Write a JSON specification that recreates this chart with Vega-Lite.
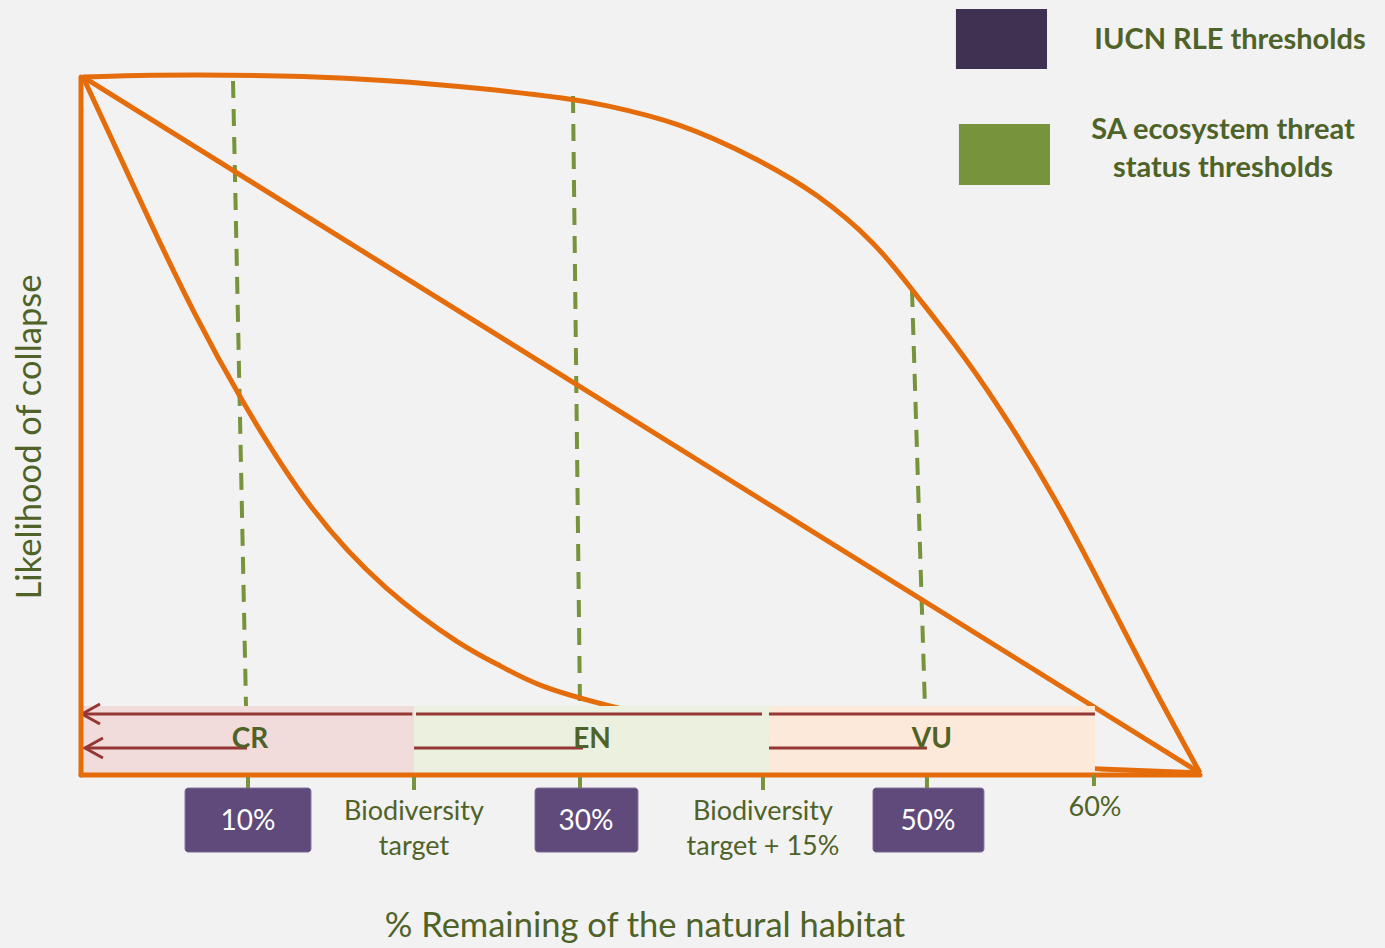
{
  "$schema": "https://vega.github.io/schema/vega-lite/v6.json",
  "width": 1385,
  "height": 948,
  "autosize": {"type": "fit", "contains": "padding"},
  "padding": 0,
  "background": "#f2f2f2",
  "config": {"view": {"stroke": null}, "font": "Lato"},
  "datasets": {
    "dashes": [
      {"id": "d10", "o": 1, "x": 9.13, "y": 0.9943},
      {"id": "d10", "o": 2, "x": 9.91, "y": 0.0963},
      {"id": "d30", "o": 1, "x": 29.55, "y": 0.9727},
      {"id": "d30", "o": 2, "x": 29.97, "y": 0.0963},
      {"id": "d50", "o": 1, "x": 49.91, "y": 0.694},
      {"id": "d50", "o": 2, "x": 50.69, "y": 0.0948}
    ],
    "curves": [
      {"id": "top", "o": 1, "x": 0.12, "y": 1.0},
      {"id": "top", "o": 2, "x": 4.14, "y": 1.0029},
      {"id": "top", "o": 3, "x": 9.13, "y": 1.0029},
      {"id": "top", "o": 4, "x": 13.15, "y": 1.0014},
      {"id": "top", "o": 5, "x": 18.32, "y": 0.9957},
      {"id": "top", "o": 6, "x": 23.96, "y": 0.9842},
      {"id": "top", "o": 7, "x": 29.55, "y": 0.9684},
      {"id": "top", "o": 8, "x": 31.17, "y": 0.9612},
      {"id": "top", "o": 9, "x": 35.92, "y": 0.9353},
      {"id": "top", "o": 10, "x": 40.66, "y": 0.8822},
      {"id": "top", "o": 11, "x": 44.2, "y": 0.8333},
      {"id": "top", "o": 12, "x": 47.81, "y": 0.7601},
      {"id": "top", "o": 13, "x": 49.91, "y": 0.694},
      {"id": "top", "o": 14, "x": 52.55, "y": 0.6149},
      {"id": "top", "o": 15, "x": 54.89, "y": 0.5359},
      {"id": "top", "o": 16, "x": 58.5, "y": 0.398},
      {"id": "top", "o": 17, "x": 62.04, "y": 0.2328},
      {"id": "top", "o": 18, "x": 64.44, "y": 0.1207},
      {"id": "top", "o": 19, "x": 67.21, "y": 0.0},
      {"id": "mid", "o": 1, "x": 0.12, "y": 1.0},
      {"id": "mid", "o": 2, "x": 67.21, "y": 0.0},
      {"id": "low", "o": 1, "x": 0.12, "y": 1.0},
      {"id": "low", "o": 2, "x": 2.46, "y": 0.8793},
      {"id": "low", "o": 3, "x": 4.32, "y": 0.783},
      {"id": "low", "o": 4, "x": 6.73, "y": 0.6624},
      {"id": "low", "o": 5, "x": 9.49, "y": 0.5402},
      {"id": "low", "o": 6, "x": 13.75, "y": 0.375},
      {"id": "low", "o": 7, "x": 18.32, "y": 0.2601},
      {"id": "low", "o": 8, "x": 22.94, "y": 0.181},
      {"id": "low", "o": 9, "x": 25.23, "y": 0.1537},
      {"id": "low", "o": 10, "x": 27.51, "y": 0.1236},
      {"id": "low", "o": 11, "x": 31.65, "y": 0.0963},
      {"id": "low", "o": 12, "x": 37.18, "y": 0.0647},
      {"id": "low", "o": 13, "x": 43.18, "y": 0.0402},
      {"id": "low", "o": 14, "x": 49.19, "y": 0.023},
      {"id": "low", "o": 15, "x": 55.2, "y": 0.0129},
      {"id": "low", "o": 16, "x": 61.2, "y": 0.0057},
      {"id": "low", "o": 17, "x": 67.21, "y": 0.0}
    ],
    "bands": [
      {"cat": "CR", "x": 0.12, "x2": 20.0, "y": 0.0963, "y2": 0.0},
      {"cat": "EN", "x": 20.0, "x2": 41.32, "y": 0.0963, "y2": 0.0},
      {"cat": "VU", "x": 41.32, "x2": 60.9, "y": 0.0963, "y2": 0.0}
    ],
    "arrows": [
      {"id": "t1", "o": 1, "x": 0.06, "y": 0.0848},
      {"id": "t1", "o": 2, "x": 19.9, "y": 0.0848},
      {"id": "t2", "o": 1, "x": 20.12, "y": 0.0848},
      {"id": "t2", "o": 2, "x": 40.9, "y": 0.0848},
      {"id": "t3", "o": 1, "x": 41.32, "y": 0.0848},
      {"id": "t3", "o": 2, "x": 60.9, "y": 0.0848},
      {"id": "ta", "o": 1, "x": 1.14, "y": 0.0991},
      {"id": "ta", "o": 2, "x": 0.06, "y": 0.0848},
      {"id": "ta", "o": 3, "x": 1.14, "y": 0.0704},
      {"id": "b1", "o": 1, "x": 0.24, "y": 0.0359},
      {"id": "b1", "o": 2, "x": 9.97, "y": 0.0359},
      {"id": "b2", "o": 1, "x": 20.0, "y": 0.0359},
      {"id": "b2", "o": 2, "x": 30.15, "y": 0.0359},
      {"id": "b3", "o": 1, "x": 41.32, "y": 0.0359},
      {"id": "b3", "o": 2, "x": 50.81, "y": 0.0359},
      {"id": "ba", "o": 1, "x": 1.32, "y": 0.0503},
      {"id": "ba", "o": 2, "x": 0.24, "y": 0.0359},
      {"id": "ba", "o": 3, "x": 1.32, "y": 0.0216}
    ],
    "frame": [
      {"id": "left", "o": 1, "x": 0.0, "y": 1.0},
      {"id": "left", "o": 2, "x": 0.0, "y": -0.0029},
      {"id": "bottom", "o": 1, "x": 0.0, "y": -0.0029},
      {"id": "bottom", "o": 2, "x": 67.21, "y": -0.0029}
    ],
    "ticks": [
      {"x": 10.03, "y": -0.0057, "y2": -0.0216},
      {"x": 20.0, "y": -0.0057, "y2": -0.0244},
      {"x": 29.97, "y": -0.0057, "y2": -0.0216},
      {"x": 40.96, "y": -0.0057, "y2": -0.0244},
      {"x": 50.81, "y": -0.0057, "y2": -0.0216},
      {"x": 60.84, "y": -0.0029, "y2": -0.0187}
    ],
    "boxes": [
      {"cat": "box", "x": 6.25, "x2": 13.81, "y": -0.0216, "y2": -0.1135},
      {"cat": "box", "x": 27.27, "x2": 33.45, "y": -0.0216, "y2": -0.1135},
      {"cat": "box", "x": 47.57, "x2": 54.23, "y": -0.0216, "y2": -0.1135}
    ],
    "boxlabels": [
      {"label": "10%", "x": 10.03, "y": -0.0704},
      {"label": "30%", "x": 30.33, "y": -0.0704},
      {"label": "50%", "x": 50.87, "y": -0.0704}
    ],
    "cats": [
      {"label": "CR", "x": 10.15, "y": 0.0474},
      {"label": "EN", "x": 30.69, "y": 0.0474},
      {"label": "VU", "x": 51.11, "y": 0.0474}
    ],
    "ticklabels": [
      {"label": "Biodiversity\ntarget", "x": 20.0, "y": -0.056},
      {"label": "Biodiversity\ntarget + 15%", "x": 40.96, "y": -0.056},
      {"label": "60%", "x": 60.9, "y": -0.0503}
    ],
    "legendrects": [
      {"cat": "IUCN", "x": 52.55, "x2": 58.02, "y": 1.0977, "y2": 1.0115},
      {"cat": "SA", "x": 52.73, "x2": 58.2, "y": 0.9325, "y2": 0.8448}
    ],
    "legendtext": [
      {"label": "IUCN RLE thresholds", "x": 69.01, "y": 1.0532},
      {"label": "SA ecosystem threat\nstatus thresholds", "x": 68.59, "y": 0.9239}
    ],
    "xtitle": [
      {"label": "% Remaining of the natural habitat", "x": 33.87, "y": -0.2213}
    ],
    "ytitle": [
      {"label": "Likelihood of collapse", "x": -3.0, "y": 0.4828}
    ]
  },
  "encoding": {
    "x": {"field": "x", "type": "quantitative", "scale": {"domain": [-4.865, 78.32], "nice": false, "zero": false}, "axis": null},
    "y": {"field": "y", "type": "quantitative", "scale": {"domain": [-0.2514, 1.1106], "nice": false, "zero": false}, "axis": null}
  },
  "layer": [
    {
      "data": {"name": "dashes"},
      "mark": {"type": "line", "stroke": "#77933c", "strokeWidth": 4, "strokeDash": [17, 11]},
      "encoding": {"detail": {"field": "id"}, "order": {"field": "o", "type": "quantitative"}}
    },
    {
      "data": {"name": "curves"},
      "mark": {"type": "line", "stroke": "#e46c0a", "strokeWidth": 5, "interpolate": "basis", "strokeJoin": "round"},
      "encoding": {"detail": {"field": "id"}, "order": {"field": "o", "type": "quantitative"}}
    },
    {
      "data": {"name": "bands"},
      "mark": {"type": "rect"},
      "encoding": {
        "x2": {"field": "x2"},
        "y2": {"field": "y2"},
        "fill": {"field": "cat", "type": "nominal", "legend": null,
          "scale": {"domain": ["CR", "EN", "VU", "IUCN", "SA", "box"], "range": ["#f2dcdb", "#ebf1de", "#fde9d9", "#3f3151", "#77933c", "#604a7b"]}}
      }
    },
    {
      "data": {"name": "arrows"},
      "mark": {"type": "line", "stroke": "#953735", "strokeWidth": 3, "strokeJoin": "miter"},
      "encoding": {"detail": {"field": "id"}, "order": {"field": "o", "type": "quantitative"}}
    },
    {
      "data": {"name": "frame"},
      "mark": {"type": "line", "stroke": "#e46c0a", "strokeWidth": 5, "strokeCap": "round"},
      "encoding": {"detail": {"field": "id"}, "order": {"field": "o", "type": "quantitative"}}
    },
    {
      "data": {"name": "ticks"},
      "mark": {"type": "rule", "stroke": "#77933c", "strokeWidth": 4},
      "encoding": {"y2": {"field": "y2"}}
    },
    {
      "data": {"name": "boxes"},
      "mark": {"type": "rect", "cornerRadius": 3, "stroke": "#7d6a96", "strokeWidth": 1},
      "encoding": {
        "x2": {"field": "x2"},
        "y2": {"field": "y2"},
        "fill": {"field": "cat", "type": "nominal", "legend": null,
          "scale": {"domain": ["CR", "EN", "VU", "IUCN", "SA", "box"], "range": ["#f2dcdb", "#ebf1de", "#fde9d9", "#3f3151", "#77933c", "#604a7b"]}}
      }
    },
    {
      "data": {"name": "legendrects"},
      "mark": {"type": "rect"},
      "encoding": {
        "x2": {"field": "x2"},
        "y2": {"field": "y2"},
        "fill": {"field": "cat", "type": "nominal", "legend": null,
          "scale": {"domain": ["CR", "EN", "VU", "IUCN", "SA", "box"], "range": ["#f2dcdb", "#ebf1de", "#fde9d9", "#3f3151", "#77933c", "#604a7b"]}}
      }
    },
    {
      "data": {"name": "boxlabels"},
      "mark": {"type": "text", "color": "#ffffff", "fontSize": 28, "align": "center", "baseline": "middle"},
      "encoding": {"text": {"field": "label"}}
    },
    {
      "data": {"name": "cats"},
      "mark": {"type": "text", "color": "#4f6228", "fontSize": 28, "fontWeight": "bold", "align": "center", "baseline": "middle"},
      "encoding": {"text": {"field": "label"}}
    },
    {
      "data": {"name": "ticklabels"},
      "mark": {"type": "text", "color": "#4f6228", "fontSize": 27, "align": "center", "baseline": "middle", "lineBreak": "\n", "lineHeight": 35},
      "encoding": {"text": {"field": "label"}}
    },
    {
      "data": {"name": "legendtext"},
      "mark": {"type": "text", "color": "#4f6228", "fontSize": 29, "fontWeight": "bold", "align": "center", "baseline": "middle", "lineBreak": "\n", "lineHeight": 38},
      "encoding": {"text": {"field": "label"}}
    },
    {
      "data": {"name": "xtitle"},
      "mark": {"type": "text", "color": "#4f6228", "fontSize": 34.5, "align": "center", "baseline": "middle"},
      "encoding": {"text": {"field": "label"}}
    },
    {
      "data": {"name": "ytitle"},
      "mark": {"type": "text", "color": "#4f6228", "fontSize": 34.5, "align": "center", "baseline": "middle", "angle": 270},
      "encoding": {"text": {"field": "label"}}
    }
  ]
}
